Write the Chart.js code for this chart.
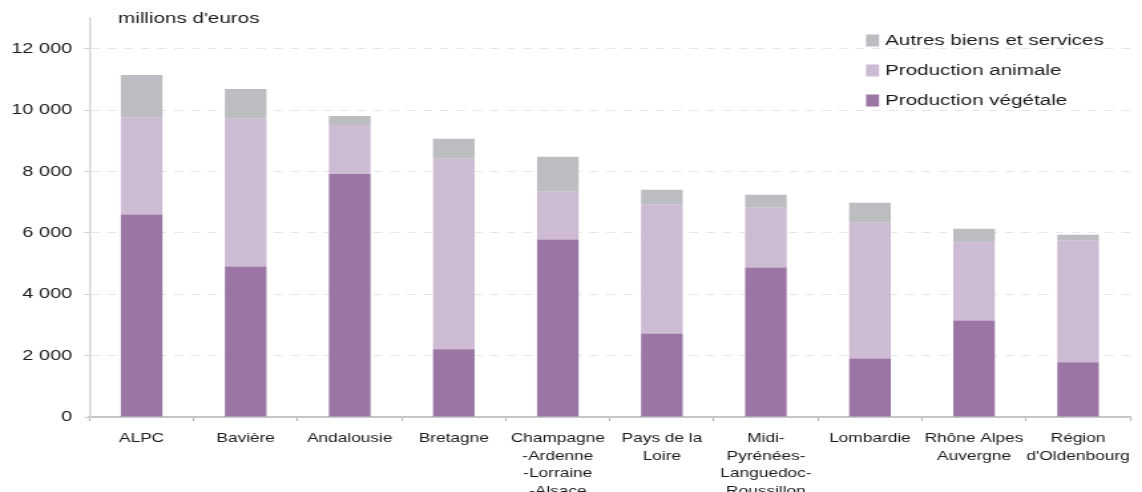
<!DOCTYPE html>
<html lang="fr">
<head>
<meta charset="utf-8">
<title>Production agricole par région</title>
<script src="https://cdn.jsdelivr.net/npm/chart.js@4.4.1/dist/chart.umd.min.js"></script>
<style>
  html, body { margin: 0; padding: 0; background: #fff; overflow: hidden; }
  #wrap { width: 1142px; height: 492px; overflow: hidden; }
  /* the source picture is stretched sideways: draw narrow, then widen */
  #chart { display: block; transform: scaleX(1.3295); transform-origin: 0 0; }
</style>
</head>
<body>
<div id="wrap"><canvas id="chart" width="859" height="492"></canvas></div>
<script>
const regions = [
  "ALPC",
  "Bavière",
  "Andalousie",
  "Bretagne",
  ["Champagne", "-Ardenne", "-Lorraine", "-Alsace"],
  ["Pays de la", "Loire"],
  ["Midi-", "Pyrénées-", "Languedoc-", "Roussillon"],
  "Lombardie",
  ["Rhône Alpes", "Auvergne"],
  ["Région", "d'Oldenbourg"],
];

// millions d'euros
const vegetale = [6600, 4900, 7915, 2205, 5780, 2720, 4870, 1910, 3145, 1780];
const animale = [3150, 4820, 1600, 6210, 1560, 4195, 1950, 4420, 2545, 3965];
const autres = [1390, 970, 290, 650, 1140, 490, 420, 650, 445, 195];

const yTicks = [0, 2000, 4000, 6000, 8000, 10000, 12000];
const unitLabel = "millions d'euros";

const font = '"Liberation Sans", Arial, sans-serif';
const textColor = "#1a1a1a";

const formatThousands = (v) => String(v).replace(/\B(?=(\d{3})+(?!\d))/g, " ");

const decorPlugin = {
  id: "decor",
  afterDraw(chart) {
    const ctx = chart.ctx;
    ctx.save();
    ctx.fillStyle = textColor;
    ctx.textBaseline = "middle";
    ctx.font = "15.5px " + font;
    ctx.fillText(unitLabel, 88.8, 19);

    // legend, top to bottom in reverse dataset order
    const items = chart.data.datasets.slice().reverse();
    const rowsY = [40.5, 70.5, 100.5];
    items.forEach((ds, i) => {
      ctx.fillStyle = ds.backgroundColor;
      ctx.fillRect(651.4, rowsY[i] - 6, 9.8, 12);
      ctx.fillStyle = textColor;
      ctx.fillText(ds.label, 665.7, rowsY[i]);
    });
    ctx.restore();
  },
};

const ctx = document.getElementById("chart").getContext("2d");
new Chart(ctx, {
  type: "bar",
  data: {
    labels: regions,
    datasets: [
      { label: "Production végétale", data: vegetale, backgroundColor: "#9b76a5" },
      { label: "Production animale", data: animale, backgroundColor: "#cdbad3" },
      { label: "Autres biens et services", data: autres, backgroundColor: "#bcbdc1" },
    ],
  },
  options: {
    responsive: false,
    animation: false,
    layout: { padding: { top: 17, right: 6, left: 0, bottom: 0 } },
    datasets: { bar: { barPercentage: 1, categoryPercentage: 0.4 } },
    plugins: { legend: { display: false }, tooltip: { enabled: false } },
    scales: {
      x: {
        stacked: true,
        grid: { drawOnChartArea: false, tickLength: 4, tickColor: "#b0b0b0", offset: true },
        border: { color: "#c6c6c6", width: 2 },
        ticks: {
          color: textColor,
          font: { family: font, size: 13, lineHeight: 1.35 },
          padding: 9,
          maxRotation: 0,
          autoSkip: false,
        },
        afterFit: (scale) => { scale.height = 75; },
      },
      y: {
        stacked: true,
        min: 0,
        max: 13000,
        afterBuildTicks: (scale) => { scale.ticks = yTicks.map((v) => ({ value: v })); },
        ticks: {
          color: textColor,
          font: { family: font, size: 15 },
          padding: 9,
          callback: (value) => formatThousands(value),
        },
        grid: { color: "#e6e6e6", tickLength: 4, tickColor: "#cfcfcf" },
        border: { color: "#d6d6d6", width: 1.5, dash: [6.5, 6] },
        afterFit: (scale) => { scale.width = 67.4; },
      },
    },
  },
  plugins: [decorPlugin],
});
</script>
</body>
</html>
